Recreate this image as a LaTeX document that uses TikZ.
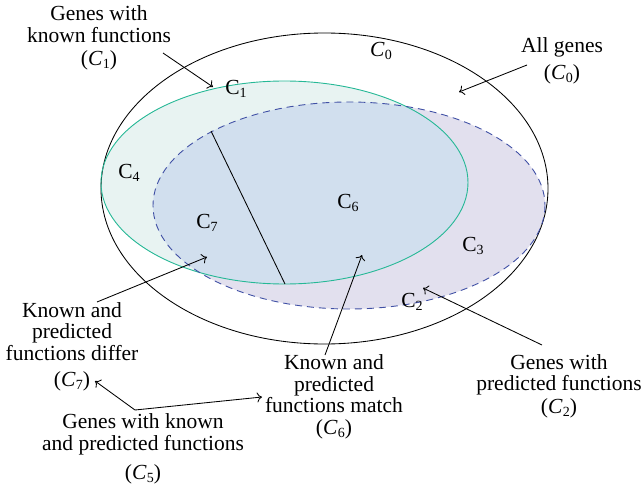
\documentclass[tikz,border=0pt]{standalone}
\usepackage{fontspec}
\setmainfont{Liberation Serif}
\usetikzlibrary{arrows.meta}
\definecolor{greenline}{RGB}{38,184,150}
\definecolor{greenfill}{RGB}{232,243,242}
\definecolor{lavfill}{RGB}{226,224,238}
\definecolor{bluefill}{RGB}{209,223,238}
\definecolor{dashline}{RGB}{64,80,165}
\newcommand\Cit[1]{\textit{C}\kern0.02em\raisebox{-0.3ex}{\fontsize{14}{14}\selectfont #1}}
\newcommand\Cup[1]{C\raisebox{-0.3ex}{\fontsize{14}{14}\selectfont #1}}
\begin{document}
\begin{tikzpicture}[x=1pt,y=-1pt,
  lbl/.style={font=\fontsize{21.5}{21.5}\selectfont, align=center, inner sep=0pt},
  reg/.style={font=\fontsize{21.5}{21.5}\selectfont, inner sep=0pt},
  arr/.style={-{To[length=5pt,width=10pt]}, line width=0.85pt},
  arrs/.style={{To[length=5pt,width=10pt]}-{To[length=5pt,width=10pt]}, line width=0.85pt}]
\useasboundingbox (0,0) rectangle (643,487);
% fills
\fill[lavfill] (349,205.5) ellipse [x radius=196, y radius=103.5];
\fill[greenfill] (284.5,182.5) ellipse [x radius=183.5, y radius=101.5];
\begin{scope}
  \clip (349,205.5) ellipse [x radius=196, y radius=103.5];
  \fill[bluefill] (284.5,182.5) ellipse [x radius=183.5, y radius=101.5];
\end{scope}
% outlines
\draw[line width=0.85pt] (324.5,188.5) ellipse [x radius=223.5, y radius=155.5];
\draw[greenline, line width=0.9pt] (284.5,182.5) ellipse [x radius=183.5, y radius=101.5];
\draw[dashline, line width=0.9pt, dash pattern=on 7pt off 5pt] (349,205.5) ellipse [x radius=196, y radius=103.5];
% divider
\coordinate (s1) at (211,131);
\coordinate (s2) at (285,284);
\draw[line width=0.85pt] (s1) -- (s2);
% region labels
\node[reg] (r0) at (381,51) {\Cit{0}};
\node[reg] (r1) at (236,89) {\Cup{1}};
\node[reg] (r4) at (129,173) {\Cup{4}};
\node[reg] (r7) at (207,223) {\Cup{7}};
\node[reg] (r6) at (348,203) {\Cup{6}};
\node[reg] (r3) at (473,246) {\Cup{3}};
\node[reg] (r2) at (412,302) {\Cup{2}};
% outside labels
\node[lbl] (l1) at (99,38) {Genes with\\known functions\\[2pt](\Cit{1})};
\node[lbl] (l0) at (562,61) {All genes\\[6pt](\Cit{0})};
\node[lbl] (l7) at (72,347) {Known and\\predicted\\functions differ\\[5pt](\Cit{7})};
\node[lbl] (l6) at (334,397) {Known and\\predicted\\functions match\\(\Cit{6})};
\node[lbl] (l2) at (559,386) {Genes with\\predicted functions\\[1pt](\Cit{2})};
\node[lbl] (l5) at (143,449) {Genes with known\\and predicted functions\\[8pt](\Cit{5})};
% arrows
\coordinate (a1s) at (163,53);  \coordinate (a1e) at (213,87);
\coordinate (a0s) at (527,65);  \coordinate (a0e) at (459,92);
\coordinate (a7s) at (97,302);  \coordinate (a7e) at (207,257);
\coordinate (a6s) at (325,355); \coordinate (a6e) at (362,255);
\coordinate (a2s) at (542,345); \coordinate (a2e) at (423,288);
\coordinate (a5l) at (95,381);  \coordinate (a5v) at (135,410); \coordinate (a5r) at (262,397);
\draw[arr] (a1s) -- (a1e);
\draw[arr] (a0s) -- (a0e);
\draw[arr] (a7s) -- (a7e);
\draw[arr] (a6s) -- (a6e);
\draw[arr] (a2s) -- (a2e);
\draw[arrs] (a5l) -- (a5v) -- (a5r);
\end{tikzpicture}
\end{document}
